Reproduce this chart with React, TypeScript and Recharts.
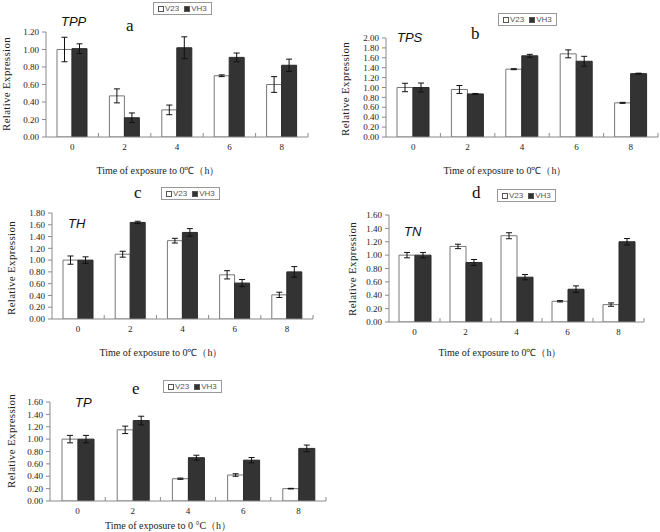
import React from 'react';
import { BarChart, Bar, XAxis, YAxis, ErrorBar } from 'recharts';

// time points (h)
const hours = ['0', '2', '4', '6', '8'];
const seriesNames = ['V23', 'VH3'];

// TPP (a)
const tppV23 = [1.0, 0.47, 0.31, 0.7, 0.6];
const tppV23Err = [0.14, 0.08, 0.055, 0.01, 0.09];
const tppVH3 = [1.01, 0.22, 1.02, 0.91, 0.82];
const tppVH3Err = [0.055, 0.055, 0.125, 0.05, 0.07];

// TPS (b)
const tpsV23 = [1.0, 0.96, 1.37, 1.68, 0.69];
const tpsV23Err = [0.085, 0.08, 0.01, 0.08, 0.01];
const tpsVH3 = [1.0, 0.87, 1.64, 1.53, 1.28];
const tpsVH3Err = [0.09, 0.01, 0.03, 0.1, 0.01];

// TH (c)
const thV23 = [1.0, 1.1, 1.33, 0.75, 0.41];
const thV23Err = [0.07, 0.05, 0.04, 0.07, 0.045];
const thVH3 = [1.0, 1.64, 1.47, 0.61, 0.8];
const thVH3Err = [0.055, 0.02, 0.065, 0.06, 0.09];

// TN (d)
const tnV23 = [1.0, 1.13, 1.29, 0.31, 0.26];
const tnV23Err = [0.04, 0.033, 0.045, 0.01, 0.025];
const tnVH3 = [1.0, 0.89, 0.67, 0.49, 1.2];
const tnVH3Err = [0.04, 0.045, 0.04, 0.05, 0.048];

// TP (e)
const tpV23 = [1.0, 1.15, 0.36, 0.42, 0.2];
const tpV23Err = [0.06, 0.06, 0.01, 0.02, 0.005];
const tpVH3 = [1.0, 1.3, 0.7, 0.66, 0.85];
const tpVH3Err = [0.06, 0.07, 0.04, 0.043, 0.054];

const ticksA = [0, 0.2, 0.4, 0.6, 0.8, 1.0, 1.2];
const ticksB = [0, 0.2, 0.4, 0.6, 0.8, 1.0, 1.2, 1.4, 1.6, 1.8, 2.0];
const ticksC = [0, 0.2, 0.4, 0.6, 0.8, 1.0, 1.2, 1.4, 1.6, 1.8];
const ticksD = [0, 0.2, 0.4, 0.6, 0.8, 1.0, 1.2, 1.4, 1.6];
const ticksE = [0, 0.2, 0.4, 0.6, 0.8, 1.0, 1.2, 1.4, 1.6];

const xLabel = 'Time of exposure to 0\u2103\uff08h\uff09';
const xLabelE = 'Time of exposure to 0 \u00b0C\uff08h\uff09';

const makeRows = (v23: number[], v23e: number[], vh3: number[], vh3e: number[]) =>
  hours.map((h, i) => ({ hour: h, v23: v23[i], v23Err: v23e[i], vh3: vh3[i], vh3Err: vh3e[i] }));

const serif = "'Liberation Serif', 'Times New Roman', serif";
const axisGray = '#8a8a8a';

type Panel = {
  gene: string;
  letter: string;
  rows: ReturnType<typeof makeRows>;
  ticks: number[];
  xText: string;
  box: { left: number; top: number; w: number; h: number };
  plot: { x0: number; x1: number; y0: number; y1: number };
  barSize: number;
  legend: { left: number; top: number };
  geneAt: { left: number; top: number };
  letterAt: { left: number; top: number };
  xLabelAt: { cx: number; cy: number };
  yLabelAt: { cx: number; cy: number };
};

const panels: Panel[] = [
  {
    gene: 'TPP', letter: 'a', rows: makeRows(tppV23, tppV23Err, tppVH3, tppVH3Err), ticks: ticksA, xText: xLabel,
    box: { left: 0, top: 0, w: 330, h: 180 }, plot: { x0: 46, x1: 308, y0: 32, y1: 137 }, barSize: 15,
    legend: { left: 153, top: 2 }, geneAt: { left: 61, top: 14 }, letterAt: { left: 126, top: 17 },
    xLabelAt: { cx: 158, cy: 170 }, yLabelAt: { cx: 6, cy: 84 },
  },
  {
    gene: 'TPS', letter: 'b', rows: makeRows(tpsV23, tpsV23Err, tpsVH3, tpsVH3Err), ticks: ticksB, xText: xLabel,
    box: { left: 330, top: 0, w: 330, h: 180 }, plot: { x0: 386, x1: 658, y0: 38, y1: 137 }, barSize: 16,
    legend: { left: 498, top: 13 }, geneAt: { left: 397, top: 30 }, letterAt: { left: 471, top: 25 },
    xLabelAt: { cx: 505, cy: 170 }, yLabelAt: { cx: 345, cy: 89 },
  },
  {
    gene: 'TH', letter: 'c', rows: makeRows(thV23, thV23Err, thVH3, thVH3Err), ticks: ticksC, xText: xLabel,
    box: { left: 0, top: 180, w: 330, h: 180 }, plot: { x0: 52, x1: 313, y0: 213, y1: 319 }, barSize: 15,
    legend: { left: 161, top: 187 }, geneAt: { left: 68, top: 216 }, letterAt: { left: 134, top: 184 },
    xLabelAt: { cx: 161, cy: 352 }, yLabelAt: { cx: 11, cy: 268 },
  },
  {
    gene: 'TN', letter: 'd', rows: makeRows(tnV23, tnV23Err, tnVH3, tnVH3Err), ticks: ticksD, xText: xLabel,
    box: { left: 330, top: 180, w: 330, h: 180 }, plot: { x0: 389, x1: 644, y0: 215, y1: 322 }, barSize: 16,
    legend: { left: 497, top: 189 }, geneAt: { left: 404, top: 224 }, letterAt: { left: 472, top: 184 },
    xLabelAt: { cx: 500, cy: 352 }, yLabelAt: { cx: 352, cy: 269 },
  },
  {
    gene: 'TP', letter: 'e', rows: makeRows(tpV23, tpV23Err, tpVH3, tpVH3Err), ticks: ticksE, xText: xLabelE,
    box: { left: 0, top: 360, w: 330, h: 172 }, plot: { x0: 50, x1: 326, y0: 402, y1: 501 }, barSize: 16,
    legend: { left: 163, top: 380 }, geneAt: { left: 75, top: 395 }, letterAt: { left: 132, top: 380 },
    xLabelAt: { cx: 168, cy: 526 }, yLabelAt: { cx: 11, cy: 441 },
  },
];

// category label plus the small inward tick at the right edge of each band
const HourTick = (props: any) => {
  const { x, y, payload, step } = props;
  const bx = x + step / 2;
  return (
    <g>
      <text x={x} y={y + 13} textAnchor="middle" fontSize={9} fontFamily={serif} fill="#222">
        {payload.value}
      </text>
      <line x1={bx} x2={bx} y1={y} y2={y - 4} stroke={axisGray} />
    </g>
  );
};

const LegendBox = ({ left, top }: { left: number; top: number }) => (
  <div
    style={{
      position: 'absolute', left, top, border: '1px solid #999', background: '#fff',
      padding: '1px 4px', display: 'flex', alignItems: 'center', gap: 5,
      fontFamily: "'Liberation Sans Narrow', 'Liberation Sans', sans-serif", fontSize: 8, color: '#555', lineHeight: '9px',
    }}
  >
    {seriesNames.map((n, i) => (
      <span key={n} style={{ display: 'flex', alignItems: 'center' }}>
        <span
          style={{
            display: 'inline-block', width: 4, height: 4, marginRight: 1,
            border: '1px solid #555', background: i === 0 ? '#fff' : '#333',
          }}
        />
        {n}
      </span>
    ))}
  </div>
);

const GenePanel = ({ p }: { p: Panel }) => {
  const { box, plot } = p;
  const yMax = p.ticks[p.ticks.length - 1];
  const step = (plot.x1 - plot.x0) / hours.length;
  return (
    <>
      <div style={{ position: 'absolute', left: box.left, top: box.top }}>
        <BarChart
          width={box.w}
          height={box.h}
          data={p.rows}
          margin={{ top: plot.y0 - box.top, right: box.left + box.w - plot.x1, left: 0, bottom: 0 }}
          barGap={0}
          barSize={p.barSize}
        >
          <XAxis
            dataKey="hour"
            height={box.top + box.h - plot.y1}
            axisLine={{ stroke: axisGray }}
            tickLine={false}
            tickSize={0}
            tickMargin={0}
            interval={0}
            tick={<HourTick step={step} />}
          />
          <YAxis
            width={plot.x0 - box.left}
            domain={[0, yMax]}
            ticks={p.ticks}
            interval={0}
            allowDataOverflow
            axisLine={{ stroke: axisGray }}
            tickLine={{ stroke: axisGray }}
            tickSize={4}
            tickMargin={3}
            tickFormatter={(v: number) => v.toFixed(2)}
            tick={{ fontSize: 9, fontFamily: serif, fill: '#222' }}
          />
          <Bar dataKey="v23" name="V23" fill="#fff" stroke="#777" strokeWidth={1} isAnimationActive={false}>
            <ErrorBar dataKey="v23Err" width={3} stroke="#111" strokeWidth={1} isAnimationActive={false} />
          </Bar>
          <Bar dataKey="vh3" name="VH3" fill="#333" stroke="#2a2a2a" strokeWidth={1} isAnimationActive={false}>
            <ErrorBar dataKey="vh3Err" width={3} stroke="#111" strokeWidth={1} isAnimationActive={false} />
          </Bar>
        </BarChart>
      </div>
      <LegendBox left={p.legend.left} top={p.legend.top} />
      <div
        style={{
          position: 'absolute', left: p.geneAt.left, top: p.geneAt.top, fontFamily: "'Liberation Sans', Arial, sans-serif",
          fontStyle: 'italic', fontSize: 13, color: '#111', lineHeight: '15px',
        }}
      >
        {p.gene}
      </div>
      <div
        style={{
          position: 'absolute', left: p.letterAt.left, top: p.letterAt.top, fontFamily: serif,
          fontSize: 17, color: '#111', lineHeight: '18px',
        }}
      >
        {p.letter}
      </div>
      <div
        style={{
          position: 'absolute', left: p.xLabelAt.cx, top: p.xLabelAt.cy, transform: 'translate(-50%, -50%)',
          whiteSpace: 'nowrap', fontFamily: serif, fontSize: 10, color: '#222',
        }}
      >
        {p.xText}
      </div>
      <div
        style={{
          position: 'absolute', left: p.yLabelAt.cx, top: p.yLabelAt.cy,
          transform: 'translate(-50%, -50%) rotate(-90deg)', whiteSpace: 'nowrap',
          fontFamily: serif, fontSize: 11, color: '#222', letterSpacing: 0.3,
        }}
      >
        Relative Expression
      </div>
    </>
  );
};

export default function App() {
  return (
    <div style={{ position: 'fixed', left: 0, top: 0, width: 660, height: 532, background: '#fff', overflow: 'hidden' }}>
      {panels.map((p) => (
        <GenePanel key={p.gene} p={p} />
      ))}
    </div>
  );
}
